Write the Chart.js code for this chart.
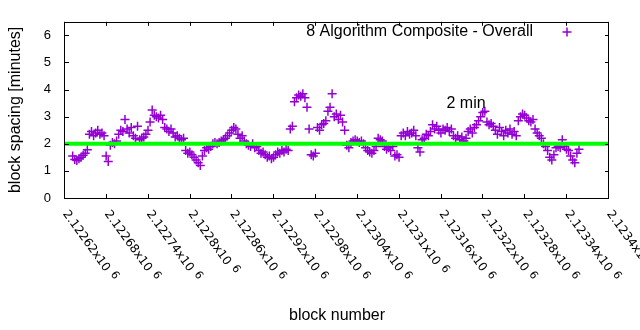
<!DOCTYPE html>
<html>
<head>
<meta charset="utf-8">
<script src="https://cdn.jsdelivr.net/npm/chart.js@4.4.1/dist/chart.umd.min.js"></script>
<style>
  html, body { margin: 0; padding: 0; background: #fff; }
  canvas { display: block; }
</style>
</head>
<body>
<canvas id="spacingChart" width="640" height="330"></canvas>
<script>
// one point every 3 blocks, starting at firstBlock
const firstBlock = 2122631;
const blockStep = 3;
const blockSpacing = [
  1.55, 1.42, 1.38, 1.45, 1.50, 1.58, 1.65, 1.78, 2.35, 2.45,
  2.30, 2.40, 2.50, 2.35, 2.40, 2.30, 1.55, 1.35, 1.95, 2.05,
  2.00, 2.10, 2.35, 2.50, 2.45, 2.90, 2.55, 2.40, 2.60, 2.30,
  2.20, 2.65, 2.15, 2.20, 2.25, 2.35, 2.50, 2.80, 3.25, 3.05,
  3.00, 2.95, 3.05, 2.90, 2.60, 2.55, 2.45, 2.55, 2.40, 2.25,
  2.30, 2.20, 2.15, 2.20, 1.75, 1.65, 1.70, 1.60, 1.50, 1.40,
  1.30, 1.20, 1.55, 1.75, 1.85, 1.80, 1.90, 2.00, 2.05, 2.00,
  2.05, 2.10, 2.15, 2.20, 2.30, 2.40, 2.50, 2.60, 2.55, 2.35,
  2.20, 2.30, 2.10, 2.00, 1.95, 1.90, 2.00, 1.85, 1.90, 1.75,
  1.65, 1.70, 1.60, 1.50, 1.55, 1.45, 1.50, 1.60, 1.70, 1.65,
  1.75, 1.70, 1.80, 1.75, 2.55, 2.65, 3.55, 3.70, 3.80, 3.75,
  3.85, 3.70, 3.35, 2.55, 1.60, 1.55, 1.65, 2.60, 2.50, 2.70,
  2.75, 2.85, 3.20, 3.35, 3.85, 3.00, 3.10, 2.90, 3.05, 2.80,
  2.50, 1.95, 1.85, 2.05, 2.10, 2.15, 2.10, 2.05, 2.10, 2.00,
  1.85, 1.75, 1.70, 1.65, 1.75, 1.90, 2.20, 2.15, 2.10, 1.90,
  1.80, 1.85, 1.75, 1.90, 1.55, 1.60, 1.50, 2.30, 2.40, 2.30,
  2.45, 2.35, 2.40, 2.50, 2.30, 1.85, 1.70, 2.15, 2.20, 2.35,
  2.30, 2.45, 2.70, 2.55, 2.65, 2.50, 2.40, 2.55, 2.50, 2.60,
  2.45, 2.55, 2.30, 2.20, 2.30, 2.15, 2.25, 2.10, 2.20, 2.45,
  2.55, 2.40, 2.60, 2.70, 2.85, 3.00, 3.15, 3.20, 2.80, 2.70,
  2.75, 2.65, 2.50, 2.35, 2.60, 2.45, 2.30, 2.50, 2.40, 2.55,
  2.35, 2.45, 2.30, 2.85, 3.00, 3.10, 3.05, 2.95, 2.85, 2.80,
  2.90, 2.55, 2.40, 2.30, 2.20, 2.00, 1.90, 1.75, 1.50, 1.40,
  1.60, 1.85, 1.90, 1.85, 2.15, 1.90, 1.80, 1.75, 1.55, 1.40,
  1.30, 1.65, 1.80
];

const xMin = 2122620;
const xMax = 2123400;
const xTickStep = 60;
const yMin = 0;
const yMax = 6.5;
const yTickValues = [0, 1, 2, 3, 4, 5, 6];
const targetSpacing = 2;

const seriesLabel = '8 Algorithm Composite - Overall';
const targetLabel = '2 min';
const targetLabelBlock = 2123167;
const targetLabelValue = 3.5;

const purple = '#9400d3';
const green = '#00ff00';
const textFont = '"Liberation Sans", Arial, sans-serif';

const points = blockSpacing.map((v, i) => ({ x: firstBlock + i * blockStep, y: v }));

function drawCross(ctx, x, y, r) {
    ctx.beginPath();
    ctx.moveTo(x - r, y);
    ctx.lineTo(x + r, y);
    ctx.moveTo(x, y - r);
    ctx.lineTo(x, y + r);
    ctx.stroke();
}

function mantissa(v) {
    return String(parseFloat((v / 1e6).toFixed(5)));
}

const gnuplotFrame = {
    id: 'gnuplotFrame',
    afterDraw(chart) {
        const ctx = chart.ctx;
        const area = chart.chartArea;
        const xs = chart.scales.x;
        const ys = chart.scales.y;
        const tick = 4;

        ctx.save();
        ctx.strokeStyle = '#000';
        ctx.lineWidth = 1;
        ctx.strokeRect(Math.round(area.left) - 0.5, Math.round(area.top) + 0.5,
            Math.round(area.right - area.left), Math.round(area.bottom - area.top));

        // inward ticks on all four sides
        ctx.beginPath();
        for (let v = xMin; v <= xMax; v += xTickStep) {
            const px = Math.round(xs.getPixelForValue(v)) - 0.5;
            ctx.moveTo(px, area.bottom);
            ctx.lineTo(px, area.bottom - tick);
            ctx.moveTo(px, area.top);
            ctx.lineTo(px, area.top + tick);
        }
        yTickValues.forEach(v => {
            const py = Math.round(ys.getPixelForValue(v)) + 0.5;
            ctx.moveTo(area.left, py);
            ctx.lineTo(area.left + tick, py);
            ctx.moveTo(area.right, py);
            ctx.lineTo(area.right - tick, py);
        });
        ctx.stroke();

        // rotated x tick labels
        ctx.fillStyle = '#000';
        for (let v = xMin; v <= xMax; v += xTickStep) {
            const px = xs.getPixelForValue(v);
            const txt = mantissa(v) + 'x10';
            ctx.save();
            ctx.translate(px, 212);
            ctx.rotate(54 * Math.PI / 180);
            ctx.textAlign = 'left';
            ctx.textBaseline = 'middle';
            ctx.font = '12px "DejaVu Sans", sans-serif';
            ctx.fillText(txt, 0, 0);
            const w = ctx.measureText(txt).width;
            ctx.font = '11px "DejaVu Sans", sans-serif';
            ctx.fillText('6', w + 5, -3);
            ctx.restore();
        }

        // key
        ctx.font = '16px ' + textFont;
        ctx.textAlign = 'right';
        ctx.textBaseline = 'middle';
        ctx.fillText(seriesLabel, 533, 32);
        ctx.strokeStyle = purple;
        ctx.lineWidth = 1.5;
        drawCross(ctx, 567, 32, 4.5);

        // label for the 2 minute target line
        ctx.textAlign = 'left';
        ctx.fillStyle = '#000';
        ctx.fillText(targetLabel, xs.getPixelForValue(targetLabelBlock), ys.getPixelForValue(targetLabelValue));
        ctx.restore();
    }
};

const ctx = document.getElementById('spacingChart').getContext('2d');
new Chart(ctx, {
    type: 'scatter',
    data: {
        datasets: [
            {
                label: 'target',
                type: 'line',
                data: [{ x: xMin, y: targetSpacing }, { x: xMax, y: targetSpacing }],
                borderColor: green,
                borderWidth: 4,
                pointRadius: 0,
                fill: false,
                order: 0
            },
            {
                label: seriesLabel,
                data: points,
                pointStyle: 'cross',
                pointRadius: 4.5,
                pointHoverRadius: 4.5,
                borderColor: purple,
                backgroundColor: purple,
                borderWidth: 1.5,
                order: 1
            }
        ]
    },
    options: {
        responsive: false,
        animation: false,
        devicePixelRatio: 1,
        layout: { padding: { left: 0, right: 31, top: 19, bottom: 0 } },
        plugins: {
            legend: { display: false },
            tooltip: { enabled: false }
        },
        scales: {
            x: {
                type: 'linear',
                min: xMin,
                max: xMax,
                ticks: { display: false, stepSize: xTickStep },
                grid: { display: false, drawTicks: false },
                border: { display: false },
                title: {
                    display: true,
                    text: 'block number',
                    color: '#000',
                    font: { family: textFont, size: 16 },
                    padding: { top: 0, bottom: 5 }
                },
                afterFit(scale) { scale.height = 132; }
            },
            y: {
                type: 'linear',
                min: yMin,
                max: yMax,
                afterBuildTicks(scale) {
                    scale.ticks = yTickValues.map(v => ({ value: v }));
                },
                ticks: {
                    padding: 14,
                    color: '#000',
                    font: { family: textFont, size: 13 }
                },
                grid: { display: false, drawTicks: false },
                border: { display: false },
                title: {
                    display: true,
                    text: 'block spacing [minutes]',
                    color: '#000',
                    font: { family: textFont, size: 16 },
                    padding: { top: 6, bottom: 0 }
                },
                afterFit(scale) { scale.width = 65; }
            }
        }
    },
    plugins: [gnuplotFrame]
});
</script>
</body>
</html>
